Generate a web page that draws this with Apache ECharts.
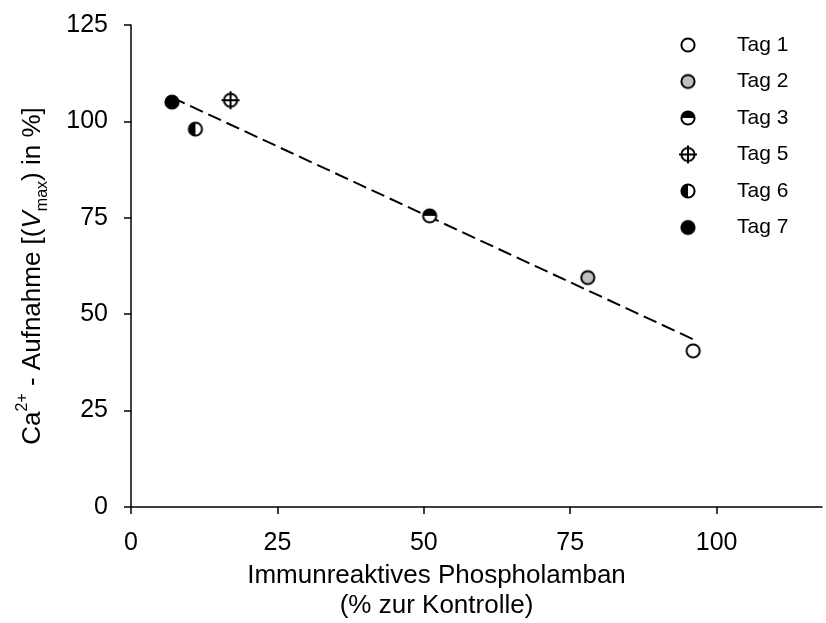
<!DOCTYPE html>
<html>
<head>
<meta charset="utf-8">
<title>Ca2+ - Aufnahme vs. Phospholamban</title>
<script src="https://cdn.jsdelivr.net/npm/echarts@6/dist/echarts.min.js"></script>
<style>
  html, body { margin: 0; padding: 0; background: #fff; }
  #chart { width: 826px; height: 623px; }
</style>
</head>
<body>
<div id="chart"></div>
<script>
var tagNames = ['Tag 1', 'Tag 2', 'Tag 3', 'Tag 5', 'Tag 6', 'Tag 7'];
var tagMarkers = ['open', 'gray', 'halfTop', 'cross', 'halfLeft', 'filled'];
var phospholamban = [96, 78, 51, 17, 11, 7];
var caUptake = [40.5, 59.5, 75.5, 105.5, 98, 105];
// Regressionsgerade, Endpunkte
var fitX = [7, 96];
var fitY = [106.2, 43.5];
var xTicks = [0, 25, 50, 75, 100];

// Symbole auf Canvas zeichnen (halb gefuellte Kreise etc.)
function markerImage(kind) {
  var s = 22, c = document.createElement('canvas');
  c.width = s; c.height = s;
  var g = c.getContext('2d');
  var cx = s / 2, cy = s / 2, r = 6.6;
  g.lineWidth = 2;
  g.strokeStyle = '#000';
  g.beginPath();
  g.arc(cx, cy, r, 0, Math.PI * 2);
  g.fillStyle = kind === 'gray' ? '#c0c0c0' : (kind === 'filled' ? '#000' : '#fff');
  g.fill();
  if (kind === 'halfTop' || kind === 'halfLeft') {
    g.beginPath();
    if (kind === 'halfTop') {
      g.arc(cx, cy, r, Math.PI, Math.PI * 2);
    } else {
      g.arc(cx, cy, r, Math.PI / 2, Math.PI * 1.5);
    }
    g.closePath();
    g.fillStyle = '#000';
    g.fill();
  }
  g.beginPath();
  g.arc(cx, cy, r, 0, Math.PI * 2);
  g.stroke();
  if (kind === 'cross') {
    g.beginPath();
    g.moveTo(cx - 9, cy); g.lineTo(cx + 9, cy);
    g.moveTo(cx, cy - 9); g.lineTo(cx, cy + 9);
    g.stroke();
  }
  return 'image://' + c.toDataURL();
}

var series = [{
  name: 'fit',
  type: 'line',
  data: fitX.map(function (x, i) { return [x, fitY[i]]; }),
  symbol: 'none',
  silent: true,
  z: 1,
  lineStyle: { color: '#000', width: 2, type: [14, 6] }
}];
var legendData = [];
for (var i = 0; i < tagNames.length; i++) {
  var icon = markerImage(tagMarkers[i]);
  legendData.push({ name: tagNames[i], icon: icon });
  series.push({
    name: tagNames[i],
    type: 'scatter',
    symbol: icon,
    symbolSize: 22,
    z: 3,
    itemStyle: { opacity: 1 },
    data: [[phospholamban[i], caUptake[i]]]
  });
}

var chart = echarts.init(document.getElementById('chart'));
chart.setOption({
  backgroundColor: '#fff',
  animation: false,
  textStyle: { fontFamily: 'Liberation Sans, Arial, sans-serif', color: '#000' },
  grid: { left: 131, right: 4, top: 25, bottom: 116, outerBoundsMode: 'none' },
  legend: {
    data: legendData,
    orient: 'vertical',
    left: 672,
    top: 29,
    itemWidth: 22,
    itemHeight: 22,
    itemGap: 14.5,
    inactiveColor: '#000',
    textStyle: { fontSize: 21, color: '#000', padding: [0, 0, 8, 33] }
  },
  xAxis: {
    type: 'value',
    min: 0,
    max: 118,
    interval: 25,
    splitLine: { show: false },
    axisLine: { onZero: false, lineStyle: { color: '#000', width: 1.5 } },
    axisTick: { length: 7, customValues: xTicks, lineStyle: { color: '#000', width: 1.5 } },
    axisLabel: { customValues: xTicks, fontSize: 25, color: '#000', margin: 24 },
    name: 'Immunreaktives Phospholamban\n(% zur Kontrolle)',
    nameLocation: 'middle',
    nameGap: 54,
    nameTextStyle: { fontSize: 26, color: '#000', lineHeight: 30, padding: [0, 80, 0, 0] }
  },
  yAxis: {
    type: 'value',
    min: 0,
    max: 125,
    interval: 25,
    splitLine: { show: false },
    axisLine: { onZero: false, lineStyle: { color: '#000', width: 1.5 } },
    axisTick: { length: 7, lineStyle: { color: '#000', width: 1.5 } },
    axisLabel: { fontSize: 25, color: '#000', margin: 23 },
    name: 'Ca{sup|2+} - Aufnahme [({it|V}{sub|max}) in %]',
    nameLocation: 'middle',
    nameGap: 80,
    nameTextStyle: {
      fontSize: 26, color: '#000', lineHeight: 36, padding: [0, 20, 0, 0],
      rich: {
        sup: { fontSize: 16, verticalAlign: 'top', color: '#000' },
        sub: { fontSize: 16, verticalAlign: 'bottom', color: '#000' },
        it: { fontSize: 26, fontStyle: 'italic', color: '#000' }
      }
    }
  },
  series: series
});
</script>
</body>
</html>
